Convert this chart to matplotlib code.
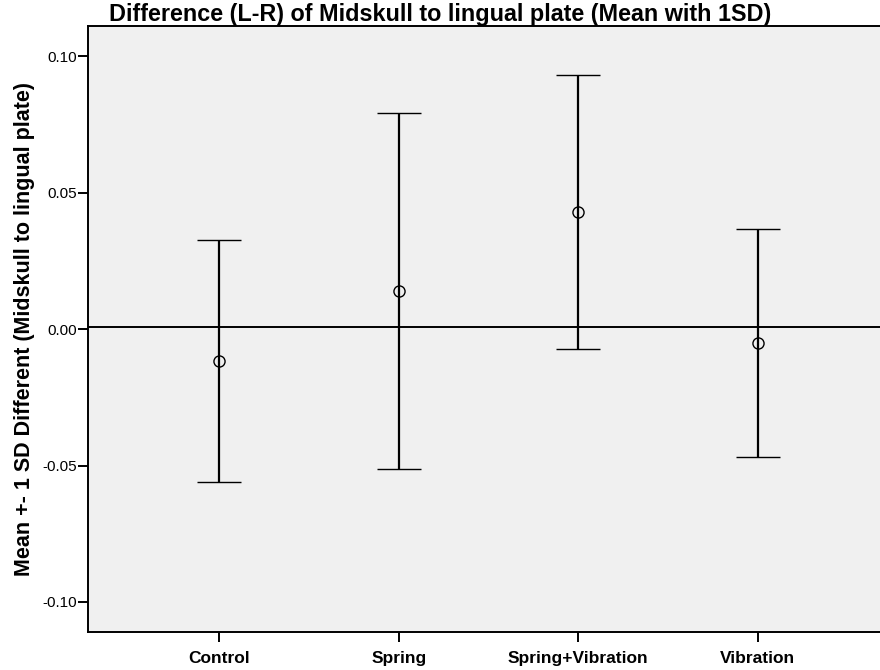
import numpy as np
import matplotlib.pyplot as plt

plt.rcParams['font.family'] = ['Liberation Sans', 'DejaVu Sans']

# Group means and standard deviations
groups = ['Control', 'Spring', 'Spring+Vibration', 'Vibration']
means = [-0.0118, 0.0139, 0.0429, -0.0052]
sds = [0.0444, 0.0653, 0.0502, 0.0417]

fig = plt.figure(figsize=(8.8, 6.7), dpi=100)
ax = fig.add_axes([0.1, 0.0567, 0.9102, 0.9043])
ax.set_facecolor('#f0f0f0')

x = np.arange(len(groups))
ax.errorbar(x, means, yerr=sds, fmt='o', color='black', mfc='none', mec='black',
            ms=8, mew=1.0, elinewidth=1.6, capsize=16, capthick=1.6, zorder=3)
ax.axhline(0.0007, color='black', lw=1.4, zorder=2)

ax.set_xlim(-0.73, 3.73)
ax.set_ylim(-0.111, 0.111)
ax.set_xticks(x)
ax.set_xticklabels(groups, fontsize=12.5, fontweight='bold')
ax.set_yticks([-0.10, -0.05, 0.0, 0.05, 0.10])
ax.set_yticklabels(['-0.10', '-0.05', '0.00', '0.05', '0.10'], fontsize=11)
ax.tick_params(axis='both', length=7, width=1.4, color='black')
ax.tick_params(axis='x', pad=7)
ax.tick_params(axis='y', pad=1)

for side in ['left', 'bottom', 'top']:
    ax.spines[side].set_linewidth(1.4)
ax.spines['right'].set_visible(False)

ax.set_ylabel('Mean +- 1 SD Different (Midskull to lingual plate)',
              fontsize=15.5, fontweight='bold', labelpad=5)
ax.set_title('Difference (L-R) of Midskull to lingual plate (Mean with 1SD)',
             fontsize=16.8, fontweight='bold', pad=0, x=0.44)

fig.savefig('out.png', dpi=100)
